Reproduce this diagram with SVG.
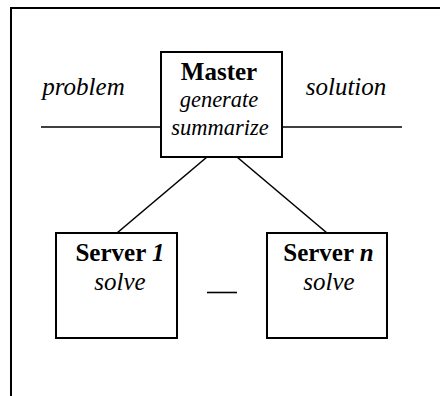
<svg xmlns="http://www.w3.org/2000/svg" width="440" height="396" viewBox="0 0 440 396">
  <style>
    .frame { fill: none; stroke: #000; stroke-width: 2; }
    .box { fill: #fff; stroke: #000; stroke-width: 2; }
    .wire { fill: none; stroke: #000; stroke-width: 1.6; }
    text { font-family: "Liberation Serif", "Times New Roman", serif; fill: #000; text-anchor: middle; }
    .title { font-weight: bold; font-size: 25px; }
    .role { font-style: italic; font-size: 25px; }
    .task { font-style: italic; font-size: 22.5px; }
  </style>
  <rect width="440" height="396" fill="#fff"/>
  <path class="frame" d="M11,396 V8 H440"/>

  <g id="connectors">
    <line class="wire" x1="41" y1="127" x2="161" y2="127"/>
    <line class="wire" x1="282" y1="127" x2="402" y2="127"/>
    <line class="wire" x1="207" y1="157" x2="117" y2="233"/>
    <line class="wire" x1="237" y1="157" x2="327" y2="233"/>
    <line class="wire" x1="207" y1="292.5" x2="237" y2="292.5"/>
  </g>

  <g id="labels">
    <text class="role" x="83.5" y="95">problem</text>
    <text class="role" x="346" y="95">solution</text>
  </g>

  <g id="master">
    <rect class="box" x="161" y="52" width="121" height="105"/>
    <text class="title" x="219" y="80">Master</text>
    <text class="task" x="219" y="107">generate</text>
    <text class="task" x="220" y="135">summarize</text>
  </g>

  <g id="server-1">
    <rect class="box" x="56" y="233" width="121" height="105"/>
    <text class="title" x="120" y="261">Server <tspan font-style="italic">1</tspan></text>
    <text class="role" x="120" y="290">solve</text>
  </g>

  <g id="server-n">
    <rect class="box" x="267" y="233" width="120" height="105"/>
    <text class="title" x="328.5" y="261">Server <tspan font-style="italic">n</tspan></text>
    <text class="role" x="329" y="290">solve</text>
  </g>
</svg>
